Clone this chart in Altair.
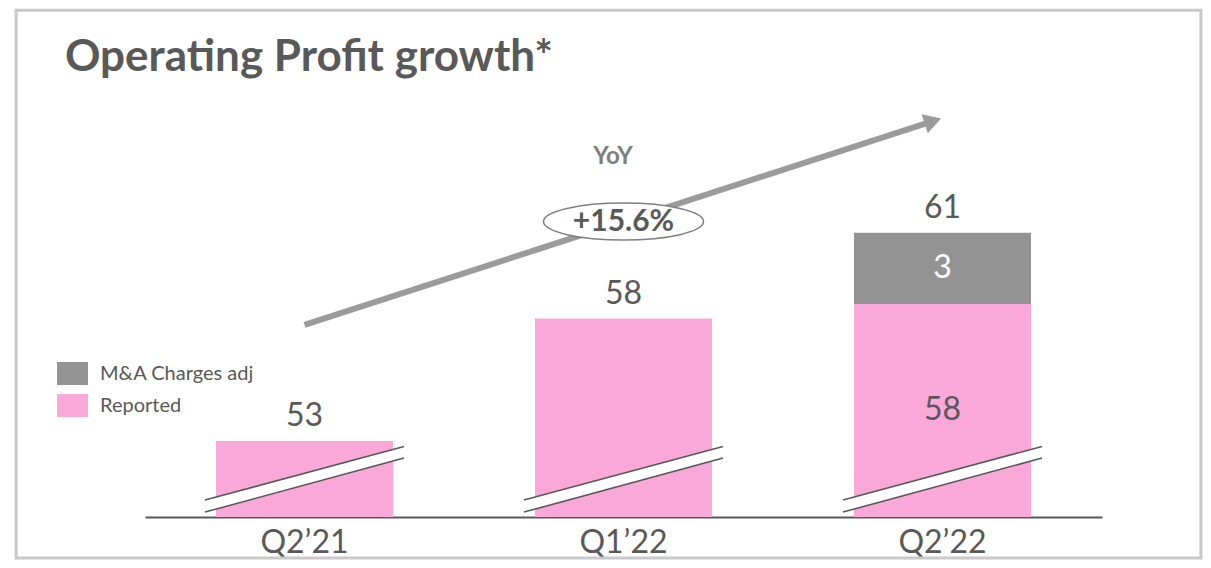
import altair as alt
import pandas as pd

# ---------------- data ----------------
quarters = ["Q2\u201921", "Q1\u201922", "Q2\u201922"]
reported = [52.5, 57.5, 58.1]
mna_adj = [0.0, 0.0, 2.9]
total_labels = ["53", "58", "61"]
reported_inner_labels = ["", "", "58"]
mna_inner_labels = ["", "", "3"]
series_names = ["M&A Charges adj", "Reported"]
title_text = "Operating Profit growth*"
yoy_text = "YoY"
growth_text = "+15.6%"

# axis break: the value axis starts here (broken axis)
axis_floor = 49.4
axis_top = 70.18

# decoration anchors in chart units (x: category units 0..3, y: value units)
arrow_u = [0.50, 2.47]
arrow_v = [57.24, 65.56]
ellipse_uv = [1.5, 61.46]
yoy_uv = [1.467, 64.09]
title_uv = [-0.251, 67.60]
break_half = 0.312
break_upper = [50.09, 52.28]
break_lower = [49.60, 51.81]
frame_u = [-0.404, 3.310]
frame_v = [47.73, 70.09]

GRAY = "#939393"
PINK = "#F9A8D9"
TEXT = "#595959"
ARROW = "#9B9B9B"
FONT = "Lato"

# ---------------- tables ----------------
bar_rows = []
for q, r, m in zip(quarters, reported, mna_adj):
    bar_rows.append({"quarter": q, "series": "Reported", "value": r, "ord": 0})
    if m > 0:
        bar_rows.append({"quarter": q, "series": "M&A Charges adj", "value": m, "ord": 1})
bars_df = pd.DataFrame(bar_rows)

totals_df = pd.DataFrame({
    "quarter": quarters,
    "total": [r + m for r, m in zip(reported, mna_adj)],
    "label": total_labels,
})

rep_inner_rows, mna_inner_rows = [], []
for q, r, m, rl, ml in zip(quarters, reported, mna_adj, reported_inner_labels, mna_inner_labels):
    if rl:
        rep_inner_rows.append({"quarter": q, "pos": (axis_floor + r) / 2, "label": rl})
    if ml:
        mna_inner_rows.append({"quarter": q, "pos": r + m / 2, "label": ml})
rep_inner_df = pd.DataFrame(rep_inner_rows)
mna_inner_df = pd.DataFrame(mna_inner_rows)

area_rows, line_rows = [], []
for i in range(len(quarters)):
    c = i + 0.5
    for uu, up, lo in [(c - break_half, break_upper[0], break_lower[0]),
                       (c + break_half, break_upper[1], break_lower[1])]:
        area_rows.append({"grp": i, "u": uu, "up": up, "lo": lo})
        line_rows.append({"grp": f"{i}u", "u": uu, "v": up})
        line_rows.append({"grp": f"{i}l", "u": uu, "v": lo})
area_df = pd.DataFrame(area_rows)
brk_line_df = pd.DataFrame(line_rows)

arrow_df = pd.DataFrame({"u": arrow_u, "v": arrow_v})
head_df = pd.DataFrame({"u": [arrow_u[1]], "v": [arrow_v[1]]})
ellipse_df = pd.DataFrame({"u": [ellipse_uv[0]], "v": [ellipse_uv[1]], "t": [growth_text]})
yoy_df = pd.DataFrame({"u": [yoy_uv[0]], "v": [yoy_uv[1]], "t": [yoy_text]})
title_df = pd.DataFrame({"u": [title_uv[0]], "v": [title_uv[1]], "t": [title_text]})
frame_df = pd.DataFrame({"u": [frame_u[0]], "u2": [frame_u[1]], "v": [frame_v[0]], "v2": [frame_v[1]]})

# ---------------- scales ----------------
ysc = alt.Scale(domain=[axis_floor, axis_top], nice=False, zero=False)
xband = alt.X(
    "quarter:N", sort=quarters,
    scale=alt.Scale(domain=quarters, paddingInner=0.445, paddingOuter=0.2225),
    axis=alt.Axis(title=None, labelAngle=0, ticks=False, domainColor=TEXT, domainWidth=2,
                  labelFont=FONT, labelFontSize=32, labelColor=TEXT, labelPadding=10),
)
xq = alt.X("u:Q", scale=alt.Scale(domain=[0, 3], nice=False, zero=False), axis=None)

ellipse_path = ("M1,0 C1,0.1276 0.5523,0.231 0,0.231 C-0.5523,0.231 -1,0.1276 -1,0 "
                "C-1,-0.1276 -0.5523,-0.231 0,-0.231 C0.5523,-0.231 1,-0.1276 1,0 Z")
rect_symbol = "M-1,-0.742H1V0.742H-1Z"

# ---------------- layers ----------------
bars = alt.Chart(bars_df).mark_bar(clip=True).encode(
    x=xband,
    y=alt.Y("value:Q", stack="zero", scale=ysc, axis=None),
    color=alt.Color(
        "series:N",
        scale=alt.Scale(domain=series_names, range=[GRAY, PINK]),
        legend=alt.Legend(orient="none", legendX=-88, legendY=350, title=None,
                          symbolType=rect_symbol, symbolSize=961, symbolStrokeWidth=0,
                          symbolOpacity=1, labelFont=FONT, labelFontSize=20,
                          labelColor=TEXT, labelOffset=12, rowPadding=4),
    ),
    order=alt.Order("ord:Q"),
)

totals = alt.Chart(totals_df).mark_text(
    font=FONT, fontSize=32, color=TEXT, baseline="alphabetic", dy=-15
).encode(x=xband, y=alt.Y("total:Q", scale=ysc, axis=None), text="label:N")

rep_inner = alt.Chart(rep_inner_df).mark_text(
    font=FONT, fontSize=32, baseline="middle", color=TEXT
).encode(x=xband, y=alt.Y("pos:Q", scale=ysc, axis=None), text="label:N")

mna_inner = alt.Chart(mna_inner_df).mark_text(
    font=FONT, fontSize=32, baseline="middle", color="#FFFFFF"
).encode(x=xband, y=alt.Y("pos:Q", scale=ysc, axis=None), text="label:N")

main = alt.layer(bars, totals, rep_inner, mna_inner)

frame = alt.Chart(frame_df).mark_rect(
    fillOpacity=0, stroke="#C9C9C9", strokeWidth=3
).encode(x=xq, x2="u2:Q", y=alt.Y("v:Q", scale=ysc, axis=None), y2="v2:Q")

brk_area = alt.Chart(area_df).mark_area(color="#FFFFFF", opacity=1).encode(
    x=xq, y=alt.Y("up:Q", scale=ysc, axis=None), y2="lo:Q", detail="grp:N"
)
brk_lines = alt.Chart(brk_line_df).mark_line(color=TEXT, strokeWidth=1.6).encode(
    x=xq, y=alt.Y("v:Q", scale=ysc, axis=None), detail="grp:N"
)
arrow = alt.Chart(arrow_df).mark_line(color=ARROW, strokeWidth=6, strokeCap="butt").encode(
    x=xq, y=alt.Y("v:Q", scale=ysc, axis=None)
)
head = alt.Chart(head_df).mark_point(
    shape="triangle-right", size=400, angle=342, filled=True, color=ARROW, opacity=1, strokeWidth=0
).encode(x=xq, y=alt.Y("v:Q", scale=ysc, axis=None))
ellipse = alt.Chart(ellipse_df).mark_point(
    shape=ellipse_path, size=25600, fill="#FFFFFF", fillOpacity=1, stroke="#808080",
    strokeOpacity=1, strokeWidth=1.5, opacity=1
).encode(x=xq, y=alt.Y("v:Q", scale=ysc, axis=None))
growth = alt.Chart(ellipse_df).mark_text(
    font=FONT, fontSize=30, fontWeight="bold", color=TEXT, baseline="middle"
).encode(x=xq, y=alt.Y("v:Q", scale=ysc, axis=None), text="t:N")
yoy = alt.Chart(yoy_df).mark_text(
    font=FONT, fontSize=24, fontWeight="bold", color="#7F7F7F", baseline="middle"
).encode(x=xq, y=alt.Y("v:Q", scale=ysc, axis=None), text="t:N")
title = alt.Chart(title_df).mark_text(
    font=FONT, fontSize=44, fontWeight="bold", color=TEXT, baseline="alphabetic", align="left"
).encode(x=xq, y=alt.Y("v:Q", scale=ysc, axis=None), text="t:N")

front = alt.layer(brk_area, brk_lines, arrow, head, ellipse, growth, yoy, title)

chart = alt.layer(frame, main, front).resolve_scale(x="independent").properties(
    width=957, height=509,
    autosize=alt.AutoSizeParams(type="none"),
    padding={"left": 137, "top": 0, "right": 101, "bottom": 43},
).configure_view(stroke=None)

chart.save("out.html", embed_options={"renderer": "svg", "actions": False})
